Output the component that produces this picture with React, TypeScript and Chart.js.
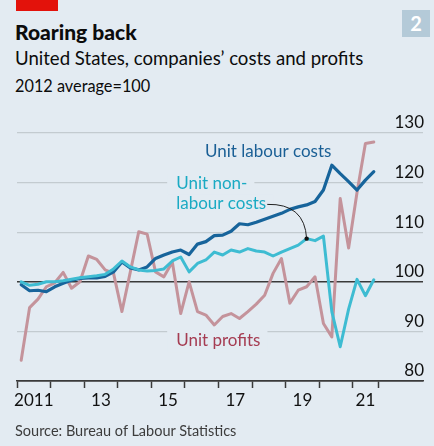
import { useEffect, useRef } from "react";
import { Chart, registerables } from "chart.js";

Chart.register(...registerables);

// ---- Data (quarterly, 2012 average = 100) ----
const QUARTERS = [
  "2011Q1", "2011Q2", "2011Q3", "2011Q4",
  "2012Q1", "2012Q2", "2012Q3", "2012Q4",
  "2013Q1", "2013Q2", "2013Q3", "2013Q4",
  "2014Q1", "2014Q2", "2014Q3", "2014Q4",
  "2015Q1", "2015Q2", "2015Q3", "2015Q4",
  "2016Q1", "2016Q2", "2016Q3", "2016Q4",
  "2017Q1", "2017Q2", "2017Q3", "2017Q4",
  "2018Q1", "2018Q2", "2018Q3", "2018Q4",
  "2019Q1", "2019Q2", "2019Q3", "2019Q4",
  "2020Q1", "2020Q2", "2020Q3", "2020Q4",
  "2021Q1", "2021Q2", "2021Q3",
];

const UNIT_LABOUR_COSTS = [
  99.4, 98.2, 98.3, 98.0, 99.0, 99.7, 100.3, 100.7,
  100.8, 100.8, 101.1, 102.0, 104.0, 102.8, 102.4, 103.0,
  104.7, 105.4, 106.0, 106.4, 105.5, 107.6, 108.1, 109.3,
  109.4, 110.2, 111.7, 111.5, 112.0, 112.6, 113.2, 113.8,
  114.6, 115.1, 115.5, 116.2, 118.5, 123.5, 121.8, 120.2,
  118.5, 120.5, 122.2,
];

const UNIT_NON_LABOUR_COSTS = [
  100.0, 99.3, 99.5, 100.0, 100.0, 100.2, 100.5, 100.8,
  101.0, 101.2, 101.5, 102.6, 104.2, 103.0, 102.4, 102.2,
  102.3, 102.6, 104.2, 105.0, 102.0, 103.7, 104.4, 106.0,
  105.4, 106.4, 106.0, 106.7, 106.2, 106.0, 105.2, 106.0,
  106.7, 107.4, 108.7, 108.3, 109.2, 94.0, 86.9, 94.5,
  100.5, 97.2, 100.4,
];

const UNIT_PROFITS = [
  84.2, 94.8, 96.5, 99.0, 99.8, 101.9, 98.7, 100.0,
  105.2, 104.5, 102.4, 101.7, 94.0, 102.0, 110.1, 109.6,
  102.0, 101.0, 104.0, 93.6, 100.0, 94.0, 93.3, 91.3,
  93.0, 93.6, 92.6, 94.0, 95.5, 97.3, 101.7, 104.7,
  95.7, 98.3, 99.0, 101.0, 91.6, 88.9, 116.8, 106.8,
  118.0, 127.9, 128.2,
];

// Axis ticks
const X_TICK_YEARS = [2011, 2012, 2013, 2014, 2015, 2016, 2017, 2018, 2019, 2020, 2021, 2021.75];
const X_LABEL_POSITIONS = [2011.5, 2013.5, 2015.5, 2017.5, 2019.5, 2021.375];
const X_LABELS = ["2011", "13", "15", "17", "19", "21"];
const Y_TICKS = [80, 90, 100, 110, 120, 130];

const COLORS = {
  bg: "#e3ebf2",
  labour: "#17649b",
  labourText: "#1a5f95",
  nonLabour: "#3ebcd2",
  nonLabourText: "#1aaac3",
  profits: "#c4939b",
  profitsText: "#a53c52",
  grid: "#c3cbd0",
  dark: "#3a3a3a",
};

const quarterToYear = (q: string) => {
  const y = parseInt(q.slice(0, 4), 10);
  const n = parseInt(q.slice(5), 10);
  return y + (n - 0.5) / 4;
};

const toPoints = (vals: number[]) => vals.map((v, i) => ({ x: quarterToYear(QUARTERS[i]), y: v }));

const LABEL_FONT = "17px Lato";

const annotationPlugin = {
  id: "annotations",
  beforeDatasetsDraw(chart: any) {
    const { ctx, scales } = chart;
    const xs = scales.x;
    const ys = scales.y;
    ctx.save();
    ctx.font = LABEL_FONT;
    ctx.textBaseline = "alphabetic";
    ctx.textAlign = "left";
    const items = [
      { text: "Unit labour costs", x: 2016.6, y: 125.2, color: COLORS.labourText, box: false },
      { text: "Unit non-", x: 2015.74, y: 118.7, color: COLORS.nonLabourText, box: true },
      { text: "labour costs", x: 2015.74, y: 114.6, color: COLORS.nonLabourText, box: true },
      { text: "Unit profits", x: 2015.74, y: 87.1, color: COLORS.profitsText, box: true },
    ];
    items.forEach((it) => {
      const px = xs.getPixelForValue(it.x);
      const py = ys.getPixelForValue(it.y);
      const w = ctx.measureText(it.text).width;
      if (it.box) {
        ctx.fillStyle = COLORS.bg;
        ctx.fillRect(px - 9, py - 15, w + 16, 22);
      }
    });
    items.forEach((it) => {
      const px = xs.getPixelForValue(it.x);
      const py = ys.getPixelForValue(it.y);
      ctx.fillStyle = it.color;
      ctx.fillText(it.text, px, py);
    });
    ctx.restore();
  },
  afterDatasetsDraw(chart: any) {
    const { ctx, scales } = chart;
    const xs = scales.x;
    const ys = scales.y;
    ctx.save();
    ctx.font = LABEL_FONT;
    const startX = xs.getPixelForValue(2015.74) + ctx.measureText("labour costs").width + 1;
    const startY = ys.getPixelForValue(114.6) - 5;
    const idx = 34;
    const dx = xs.getPixelForValue(quarterToYear(QUARTERS[idx]));
    const dy = ys.getPixelForValue(UNIT_NON_LABOUR_COSTS[idx]);
    ctx.strokeStyle = "#222";
    ctx.lineWidth = 1;
    ctx.beginPath();
    ctx.moveTo(startX, startY);
    ctx.quadraticCurveTo(dx - 2, startY - 1, dx, dy);
    ctx.stroke();
    ctx.fillStyle = "#111";
    ctx.beginPath();
    ctx.arc(dx, dy, 2.2, 0, Math.PI * 2);
    ctx.fill();
    ctx.restore();
  },
};

function ChartCanvas() {
  const ref = useRef<HTMLCanvasElement | null>(null);
  useEffect(() => {
    if (!ref.current) return;
    const isLabelTick = (v: number) => X_LABEL_POSITIONS.includes(v);
    const chart = new Chart(ref.current, {
      type: "line",
      data: {
        datasets: [
          {
            label: "Unit non-labour costs",
            data: toPoints(UNIT_NON_LABOUR_COSTS),
            borderColor: COLORS.nonLabour,
            borderWidth: 3,
            pointRadius: 0,
            tension: 0,
            borderJoinStyle: "round",
            borderCapStyle: "round",
          },
          {
            label: "Unit labour costs",
            data: toPoints(UNIT_LABOUR_COSTS),
            borderColor: COLORS.labour,
            borderWidth: 3.2,
            pointRadius: 0,
            tension: 0,
            borderJoinStyle: "round",
            borderCapStyle: "round",
          },
          {
            label: "Unit profits",
            data: toPoints(UNIT_PROFITS),
            borderColor: COLORS.profits,
            borderWidth: 3,
            pointRadius: 0,
            tension: 0,
            borderJoinStyle: "round",
            borderCapStyle: "round",
          },
        ],
      },
      options: {
        animation: false,
        responsive: false,
        devicePixelRatio: 1,
        layout: { padding: { left: 17, right: 11, top: 133, bottom: 35 } },
        plugins: { legend: { display: false }, tooltip: { enabled: false }, title: { display: false } },
        scales: {
          x: {
            type: "linear",
            min: 2011,
            max: 2023.09,
            afterBuildTicks: (axis: any) => {
              const vals = [...X_TICK_YEARS, ...X_LABEL_POSITIONS].sort((a, b) => a - b);
              axis.ticks = vals.map((v) => ({ value: v }));
            },
            afterFit: (axis: any) => {
              axis.height = 30;
            },
            ticks: {
              autoSkip: false,
              maxRotation: 0,
              padding: 2,
              color: "#111",
              font: { family: "Lato", size: 17 },
              callback: (value: any) => {
                const i = X_LABEL_POSITIONS.indexOf(Number(value));
                return i >= 0 ? X_LABELS[i] : "";
              },
            },
            grid: {
              drawOnChartArea: false,
              drawTicks: true,
              tickLength: 7,
              tickWidth: 1.5,
              tickColor: (ctx: any) => (isLabelTick(ctx.tick?.value) ? "rgba(0,0,0,0)" : COLORS.dark),
            },
            border: { display: true, color: COLORS.dark, width: 1.5 },
          },
          y: {
            type: "linear",
            position: "right",
            min: 80,
            max: 130,
            afterBuildTicks: (axis: any) => {
              axis.ticks = Y_TICKS.map((v) => ({ value: v }));
            },
            afterFit: (axis: any) => {
              axis.width = 0;
            },
            ticks: {
              mirror: true,
              padding: 1,
              labelOffset: -10,
              color: "#111",
              font: { family: "Lato", size: 17 },
            },
            grid: {
              drawTicks: false,
              color: (ctx: any) => (ctx.tick?.value === 100 || ctx.tick?.value === 80 ? COLORS.dark : COLORS.grid),
              lineWidth: (ctx: any) => (ctx.tick?.value === 100 || ctx.tick?.value === 80 ? 1.5 : 1.2),
            },
            border: { display: false },
          },
        },
      },
      plugins: [annotationPlugin],
    } as any);
    return () => chart.destroy();
  }, []);
  return <canvas ref={ref} width={434} height={446} style={{ position: "absolute", left: 0, top: 0 }} />;
}

export default function App() {
  const font = "Lato, 'Noto Sans', sans-serif";
  return (
    <div
      style={{
        position: "fixed",
        left: 0,
        top: 0,
        width: 434,
        height: 446,
        background: COLORS.bg,
        overflow: "hidden",
        fontFamily: font,
      }}
    >
      <div style={{ position: "absolute", left: 16, top: 0, width: 42, height: 11, background: "#e3120b" }} />
      <div
        style={{
          position: "absolute",
          left: 402,
          top: 10,
          width: 28,
          height: 27,
          background: "#b4cad8",
          color: "#fff",
          fontWeight: 700,
          fontSize: 20,
          lineHeight: "27px",
          textAlign: "center",
        }}
      >
        2
      </div>
      <div style={{ position: "absolute", left: 15, top: 20, fontSize: 21, fontWeight: 900, lineHeight: "24px", color: "#0c0c0c" }}>
        Roaring back
      </div>
      <div style={{ position: "absolute", left: 15, top: 48, fontSize: 18.6, lineHeight: "21px", color: "#0c0c0c" }}>
        United States, companies’ costs and profits
      </div>
      <div style={{ position: "absolute", left: 15, top: 76, fontSize: 16.3, lineHeight: "20px", color: "#0c0c0c" }}>
        2012 average=100
      </div>
      <ChartCanvas />
      <div style={{ position: "absolute", left: 15, top: 421, fontSize: 14.5, lineHeight: "20px", color: "#3c3c3c" }}>
        Source: Bureau of Labour Statistics
      </div>
    </div>
  );
}
